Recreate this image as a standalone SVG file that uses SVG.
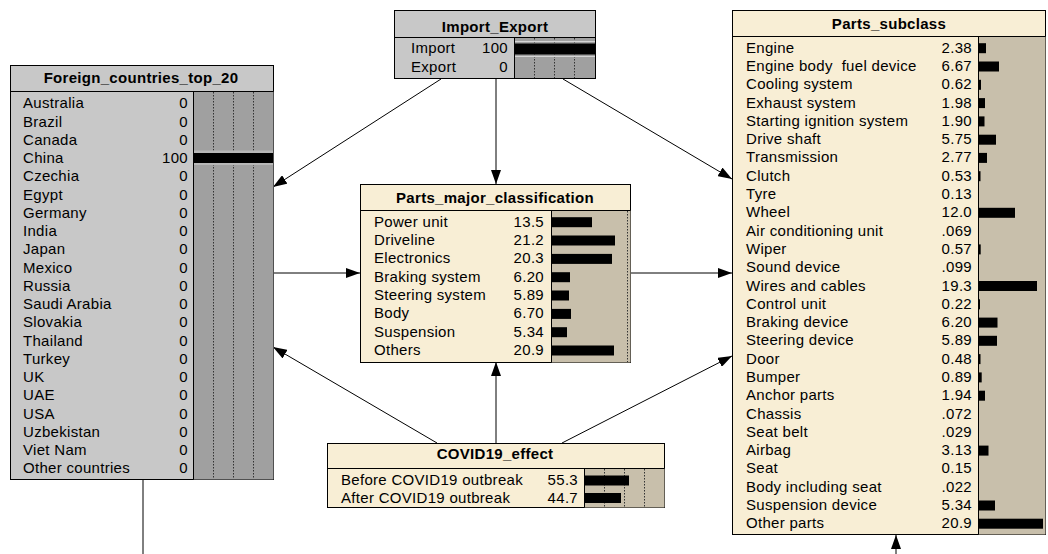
<svg xmlns="http://www.w3.org/2000/svg" width="1048" height="554" viewBox="0 0 1048 554">
<style>
text{font-family:"Liberation Sans",Arial,sans-serif;font-size:15px;letter-spacing:0.3px;fill:#000}
.t{font-weight:bold;text-anchor:middle}
.v{text-anchor:end}
.box{stroke:#000;stroke-width:1}
.gray{fill:#c8c8c8}
.grayb{fill:#a0a0a0}
.cream{fill:#f8eed5}
.creamb{fill:#c8bfab}
.sep{stroke:#000;stroke-width:1}
.dot{stroke:#333;stroke-width:1;stroke-dasharray:1.5,1.5}
.bar{fill:#000}
.con{stroke:#000;stroke-width:1;fill:none}
</style>
<defs>
<marker id="ah" markerUnits="userSpaceOnUse" markerWidth="14" markerHeight="10" refX="14" refY="5" orient="auto">
<path d="M0,0 L14,5 L0,10 z" fill="#000"/>
</marker>
</defs>

<g id="connectors">
<path class="con" d="M441,79 L273,187" marker-end="url(#ah)"/>
<path class="con" d="M496,79 L496,184" marker-end="url(#ah)"/>
<path class="con" d="M563,79 L732,179" marker-end="url(#ah)"/>
<path class="con" d="M273,273 L360,273" marker-end="url(#ah)"/>
<path class="con" d="M630,273 L732,273" marker-end="url(#ah)"/>
<path class="con" d="M437,443 L273,347" marker-end="url(#ah)"/>
<path class="con" d="M496,443 L496,362" marker-end="url(#ah)"/>
<path class="con" d="M562,443 L732,356" marker-end="url(#ah)"/>
<path class="con" d="M143,480 L143,554"/>
<path class="con" d="M896,554 L896,535" marker-end="url(#ah)"/>
</g>

<g id="Import_Export">
<rect class="box gray" x="394.5" y="10.5" width="201" height="68"/>
<rect class="grayb" x="514.5" y="37" width="80.5" height="41"/>
<line class="sep" x1="394.5" y1="37.5" x2="595.5" y2="37.5"/>
<line class="sep" x1="514.5" y1="37.5" x2="514.5" y2="78.5"/>
<line class="dot" x1="534.5" y1="38" x2="534.5" y2="78"/>
<line class="dot" x1="554.5" y1="38" x2="554.5" y2="78"/>
<line class="dot" x1="574.5" y1="38" x2="574.5" y2="78"/>
<line x1="515" y1="41.5" x2="595" y2="41.5" stroke="#d4d4d4"/>
<line x1="515" y1="56.5" x2="595" y2="56.5" stroke="#d4d4d4"/>
<rect class="bar" x="515" y="43.5" width="80" height="11"/>
<text class="t" x="495" y="31.7">Import_Export</text>
<text x="411" y="53.3">Import</text><text class="v" x="508" y="53.3">100</text>
<text x="411" y="71.7">Export</text><text class="v" x="508" y="71.7">0</text>
</g>

<g id="Foreign_countries_top_20">
<rect class="box gray" x="10.5" y="65.5" width="263" height="414"/>
<rect class="grayb" x="193.5" y="91.5" width="80" height="388"/>
<line class="sep" x1="10.5" y1="91.5" x2="273.5" y2="91.5"/>
<line class="sep" x1="193.5" y1="91.5" x2="193.5" y2="479.5"/>
<line class="dot" x1="213.5" y1="92" x2="213.5" y2="479"/>
<line class="dot" x1="233.5" y1="92" x2="233.5" y2="479"/>
<line class="dot" x1="253.5" y1="92" x2="253.5" y2="479"/>
<rect x="194" y="150.5" width="79" height="14.5" fill="#b8b8b8"/>
<rect class="bar" x="194" y="153" width="79" height="10"/>
<text class="t" x="141" y="83.3">Foreign_countries_top_20</text>
<text x="23" y="108.3">Australia</text><text class="v" x="188" y="108.3">0</text>
<text x="23" y="126.6">Brazil</text><text class="v" x="188" y="126.6">0</text>
<text x="23" y="144.8">Canada</text><text class="v" x="188" y="144.8">0</text>
<text x="23" y="163.1">China</text><text class="v" x="188" y="163.1">100</text>
<text x="23" y="181.3">Czechia</text><text class="v" x="188" y="181.3">0</text>
<text x="23" y="199.6">Egypt</text><text class="v" x="188" y="199.6">0</text>
<text x="23" y="217.8">Germany</text><text class="v" x="188" y="217.8">0</text>
<text x="23" y="236.1">India</text><text class="v" x="188" y="236.1">0</text>
<text x="23" y="254.3">Japan</text><text class="v" x="188" y="254.3">0</text>
<text x="23" y="272.6">Mexico</text><text class="v" x="188" y="272.6">0</text>
<text x="23" y="290.8">Russia</text><text class="v" x="188" y="290.8">0</text>
<text x="23" y="309.1">Saudi Arabia</text><text class="v" x="188" y="309.1">0</text>
<text x="23" y="327.3">Slovakia</text><text class="v" x="188" y="327.3">0</text>
<text x="23" y="345.6">Thailand</text><text class="v" x="188" y="345.6">0</text>
<text x="23" y="363.8">Turkey</text><text class="v" x="188" y="363.8">0</text>
<text x="23" y="382.1">UK</text><text class="v" x="188" y="382.1">0</text>
<text x="23" y="400.3">UAE</text><text class="v" x="188" y="400.3">0</text>
<text x="23" y="418.6">USA</text><text class="v" x="188" y="418.6">0</text>
<text x="23" y="436.8">Uzbekistan</text><text class="v" x="188" y="436.8">0</text>
<text x="23" y="455.1">Viet Nam</text><text class="v" x="188" y="455.1">0</text>
<text x="23" y="473.3">Other countries</text><text class="v" x="188" y="473.3">0</text>
</g>

<g id="Parts_major_classification">
<rect class="box cream" x="360.5" y="184.5" width="270" height="178"/>
<rect class="creamb" x="551.5" y="210.5" width="79" height="152"/>
<line class="sep" x1="360.5" y1="210.5" x2="630.5" y2="210.5"/>
<line class="sep" x1="551.5" y1="210.5" x2="551.5" y2="362.5"/>
<line class="dot" x1="627.5" y1="211" x2="627.5" y2="362"/>
<text class="t" x="495" y="202.7">Parts_major_classification</text>
<text x="374" y="226.7">Power unit</text><text class="v" x="544" y="226.7">13.5</text><rect class="bar" x="552" y="217.2" width="40" height="10"/>
<text x="374" y="245">Driveline</text><text class="v" x="544" y="245">21.2</text><rect class="bar" x="552" y="235.5" width="63" height="10"/>
<text x="374" y="263.4">Electronics</text><text class="v" x="544" y="263.4">20.3</text><rect class="bar" x="552" y="253.9" width="60" height="10"/>
<text x="374" y="281.7">Braking system</text><text class="v" x="544" y="281.7">6.20</text><rect class="bar" x="552" y="272.2" width="18" height="10"/>
<text x="374" y="300">Steering system</text><text class="v" x="544" y="300">5.89</text><rect class="bar" x="552" y="290.5" width="17" height="10"/>
<text x="374" y="318.4">Body</text><text class="v" x="544" y="318.4">6.70</text><rect class="bar" x="552" y="308.9" width="19" height="10"/>
<text x="374" y="336.7">Suspension</text><text class="v" x="544" y="336.7">5.34</text><rect class="bar" x="552" y="327.2" width="15" height="10"/>
<text x="374" y="355">Others</text><text class="v" x="544" y="355">20.9</text><rect class="bar" x="552" y="345.5" width="62" height="10"/>
</g>

<g id="COVID19_effect">
<rect class="box cream" x="327.5" y="443.5" width="337" height="64"/>
<rect class="creamb" x="584.5" y="468.5" width="80" height="39"/>
<line class="sep" x1="327.5" y1="468.5" x2="664.5" y2="468.5"/>
<line class="sep" x1="584.5" y1="468.5" x2="584.5" y2="507.5"/>
<line class="dot" x1="604.5" y1="469" x2="604.5" y2="507"/>
<line class="dot" x1="624.5" y1="469" x2="624.5" y2="507"/>
<line class="dot" x1="644.5" y1="469" x2="644.5" y2="507"/>
<text class="t" x="495" y="459.3">COVID19_effect</text>
<text x="341" y="485">Before COVID19 outbreak</text><text class="v" x="578" y="485">55.3</text><rect class="bar" x="585" y="475.5" width="44" height="10"/>
<text x="341" y="502.7">After COVID19 outbreak</text><text class="v" x="578" y="502.7">44.7</text><rect class="bar" x="585" y="493" width="36" height="10"/>
</g>

<g id="Parts_subclass">
<rect class="box cream" x="732.5" y="10.5" width="313" height="524"/>
<rect class="creamb" x="978.5" y="36.5" width="67" height="498"/>
<line class="sep" x1="732.5" y1="36.5" x2="1045.5" y2="36.5"/>
<line class="sep" x1="978.5" y1="36.5" x2="978.5" y2="534.5"/>
<text class="t" x="889" y="29">Parts_subclass</text>
<text x="746" y="52.7">Engine</text><text class="v" x="972" y="52.7">2.38</text><rect class="bar" x="979" y="43.2" width="7" height="10"/>
<text x="746" y="71">Engine body&#160; fuel device</text><text class="v" x="972" y="71">6.67</text><rect class="bar" x="979" y="61.5" width="20" height="10"/>
<text x="746" y="89.3">Cooling system</text><text class="v" x="972" y="89.3">0.62</text><rect class="bar" x="979" y="79.8" width="2" height="10"/>
<text x="746" y="107.6">Exhaust system</text><text class="v" x="972" y="107.6">1.98</text><rect class="bar" x="979" y="98.1" width="6" height="10"/>
<text x="746" y="125.9">Starting ignition system</text><text class="v" x="972" y="125.9">1.90</text><rect class="bar" x="979" y="116.4" width="5.5" height="10"/>
<text x="746" y="144.2">Drive shaft</text><text class="v" x="972" y="144.2">5.75</text><rect class="bar" x="979" y="134.7" width="17" height="10"/>
<text x="746" y="162.4">Transmission</text><text class="v" x="972" y="162.4">2.77</text><rect class="bar" x="979" y="152.9" width="8" height="10"/>
<text x="746" y="180.7">Clutch</text><text class="v" x="972" y="180.7">0.53</text><rect class="bar" x="979" y="171.2" width="1.5" height="10"/>
<text x="746" y="199">Tyre</text><text class="v" x="972" y="199">0.13</text>
<text x="746" y="217.3">Wheel</text><text class="v" x="972" y="217.3">12.0</text><rect class="bar" x="979" y="207.8" width="36" height="10"/>
<text x="746" y="235.6">Air conditioning unit</text><text class="v" x="972" y="235.6">.069</text>
<text x="746" y="253.9">Wiper</text><text class="v" x="972" y="253.9">0.57</text><rect class="bar" x="979" y="244.4" width="1.7" height="10"/>
<text x="746" y="272.2">Sound device</text><text class="v" x="972" y="272.2">.099</text>
<text x="746" y="290.5">Wires and cables</text><text class="v" x="972" y="290.5">19.3</text><rect class="bar" x="979" y="281" width="58" height="10"/>
<text x="746" y="308.8">Control unit</text><text class="v" x="972" y="308.8">0.22</text><rect class="bar" x="979" y="299.3" width="1" height="10"/>
<text x="746" y="327.1">Braking device</text><text class="v" x="972" y="327.1">6.20</text><rect class="bar" x="979" y="317.6" width="18.5" height="10"/>
<text x="746" y="345.3">Steering device</text><text class="v" x="972" y="345.3">5.89</text><rect class="bar" x="979" y="335.8" width="18" height="10"/>
<text x="746" y="363.6">Door</text><text class="v" x="972" y="363.6">0.48</text><rect class="bar" x="979" y="354.1" width="1.5" height="10"/>
<text x="746" y="381.9">Bumper</text><text class="v" x="972" y="381.9">0.89</text><rect class="bar" x="979" y="372.4" width="2.7" height="10"/>
<text x="746" y="400.2">Anchor parts</text><text class="v" x="972" y="400.2">1.94</text><rect class="bar" x="979" y="390.7" width="6" height="10"/>
<text x="746" y="418.5">Chassis</text><text class="v" x="972" y="418.5">.072</text>
<text x="746" y="436.8">Seat belt</text><text class="v" x="972" y="436.8">.029</text>
<text x="746" y="455.1">Airbag</text><text class="v" x="972" y="455.1">3.13</text><rect class="bar" x="979" y="445.6" width="9.5" height="10"/>
<text x="746" y="473.4">Seat</text><text class="v" x="972" y="473.4">0.15</text>
<text x="746" y="491.7">Body including seat</text><text class="v" x="972" y="491.7">.022</text>
<text x="746" y="510">Suspension device</text><text class="v" x="972" y="510">5.34</text><rect class="bar" x="979" y="500.5" width="16" height="10"/>
<text x="746" y="528.2">Other parts</text><text class="v" x="972" y="528.2">20.9</text><rect class="bar" x="979" y="518.7" width="64" height="10"/>
</g>
</svg>
